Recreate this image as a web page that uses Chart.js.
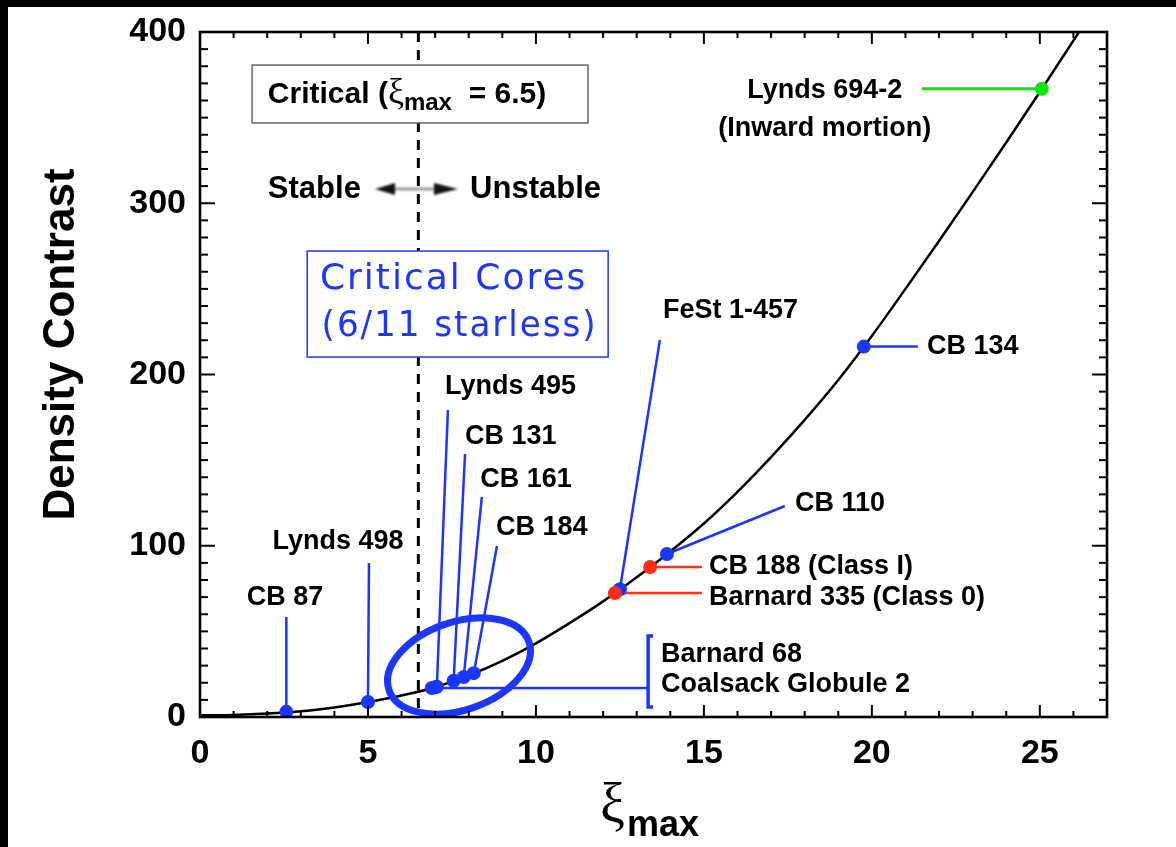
<!DOCTYPE html>
<html>
<head>
<meta charset="utf-8">
<script src="https://cdn.jsdelivr.net/npm/chart.js@4.4.1/dist/chart.umd.min.js"></script>
<style>
  html, body { margin: 0; padding: 0; background: #fff; }
  canvas { display: block; }
</style>
</head>
<body>
<canvas id="chart" width="1176" height="847"></canvas>
<script>
// Bonnor–Ebert equilibrium sequence: centre-to-edge density contrast against xi_max
const curveXi       = [0, 1, 2, 3, 4, 5, 6, 7, 8, 9, 10, 11, 12, 13, 14, 15, 16, 17, 18, 19, 20, 21, 22, 23, 24, 25, 26, 26.2];
const curveContrast = [1.0, 1.2, 2.0, 3.4, 5.6, 8.8, 12.6, 17.4, 24.3, 32.8, 43.0, 54.8, 67.5, 81.6, 96.7, 113.0,
                       131.5, 151.8, 173.5, 196.8, 222.5, 250.0, 278.0, 306.5, 335.5, 365.0, 395.0, 401.0];

// Globules fitted with Bonnor–Ebert profiles
const coreNames    = ['CB 87', 'Lynds 498', 'Barnard 68', 'Coalsack Globule 2', 'Lynds 495', 'CB 131', 'CB 161',
                      'CB 184', 'FeSt 1-457', 'CB 110', 'CB 134', 'Barnard 335', 'CB 188', 'Lynds 694-2'];
const coreXi       = [2.57, 5.0, 6.9, 7.0, 7.05, 7.55, 7.85, 8.15, 12.5, 13.9, 19.76, 12.35, 13.4, 25.06];
const coreContrast = [3.0, 8.8, 16.9, 17.4, 17.7, 21.2, 23.3, 25.6, 74.6, 95.2, 216.3, 72.4, 87.6, 366.8];
const coreKind     = ['starless', 'starless', 'starless', 'starless', 'starless', 'starless', 'starless',
                      'starless', 'starless', 'starless', 'starless', 'protostar', 'protostar', 'infall'];

// Axis tick labels and the critical value
const xTickValues = [0, 5, 10, 15, 20, 25];
const yTickValues = [0, 100, 200, 300, 400];
const xiCritical = 6.5;

const BLUE = '#1a36ff';
const RED = '#ff2d12';
const GREEN = '#12e412';
const kindColor = { starless: BLUE, protostar: RED, infall: GREEN };

const BOLD = 'bold 27px "Liberation Sans", Arial, sans-serif';

// Call-out layout, in data units: leader end point and label anchor
const callouts = [
  { name: 'CB 87',       to: [2.57, 58.4],  at: [2.53, 70.0],   align: 'center', text: ['CB 87'] },
  { name: 'Lynds 498',   to: [5.03, 89.9],  at: [4.11, 102.2],  align: 'center', text: ['Lynds 498'] },
  { name: 'Lynds 495',   to: [7.38, 179.3], at: [7.29, 192.7],  align: 'left',   text: ['Lynds 495'] },
  { name: 'CB 131',      to: [7.89, 153.6], at: [7.89, 163.5],  align: 'left',   text: ['CB 131'] },
  { name: 'CB 161',      to: [8.39, 128.5], at: [8.34, 138.4],  align: 'left',   text: ['CB 161'] },
  { name: 'CB 184',      to: [8.84, 99.9],  at: [8.81, 110.4],  align: 'left',   text: ['CB 184'] },
  { name: 'FeSt 1-457',  to: [13.69, 220.1], at: [13.78, 237.1], align: 'left',  text: ['FeSt 1-457'] },
  { name: 'CB 110',      to: [17.41, 123.2], at: [17.71, 124.4], align: 'left',  text: ['CB 110'] },
  { name: 'CB 134',      to: [21.37, null], at: [21.64, 216.6], align: 'left',   text: ['CB 134'] },
  { name: 'Barnard 335', to: [14.94, null], at: [15.15, 70.0],  align: 'left',   text: ['Barnard 335 (Class 0)'] },
  { name: 'CB 188',      to: [14.94, null], at: [15.15, 87.6],  align: 'left',   text: ['CB 188 (Class I)'] },
  { name: 'Lynds 694-2', to: [21.49, null], at: [18.6, 365.8],  align: 'center', text: ['Lynds 694-2', '(Inward mortion)'], gap: 38 }
];

// Barnard 68 / Coalsack shared bracket
const bracket = { from: 'Barnard 68', x: 13.34, top: 47.3, bottom: 5.8, labelX: 13.72, labels: [['Barnard 68', 36.2], ['Coalsack Globule 2', 18.7]] };

function pointsOf(kind) {
  const pts = [];
  coreNames.forEach((n, i) => { if (coreKind[i] === kind) pts.push({ x: coreXi[i], y: coreContrast[i] }); });
  return pts;
}

const curvePoints = curveXi.map((x, i) => ({ x, y: curveContrast[i] }));

function px(ch, x, y) { return [ch.scales.x.getPixelForValue(x), ch.scales.y.getPixelForValue(y)]; }

function line(ctx, x1, y1, x2, y2) { ctx.beginPath(); ctx.moveTo(x1, y1); ctx.lineTo(x2, y2); ctx.stroke(); }

const decor = {
  id: 'decor',
  beforeDraw(ch) {
    const ctx = ch.ctx;
    ctx.save();
    ctx.fillStyle = '#fff';
    ctx.fillRect(0, 0, ch.width, ch.height);
    ctx.fillStyle = '#000';
    ctx.fillRect(0, 0, ch.width, 7);
    ctx.fillRect(0, 0, 8, ch.height);
    ctx.restore();
  },
  beforeDatasetsDraw(ch) {
    const ctx = ch.ctx;
    const { top, bottom } = ch.chartArea;
    ctx.save();
    // critical xi marker
    const xc = ch.scales.x.getPixelForValue(xiCritical);
    ctx.strokeStyle = '#000';
    ctx.lineWidth = 3;
    ctx.setLineDash([10, 8]);
    line(ctx, xc, top, xc, bottom);
    ctx.setLineDash([]);
    // boxes (white fill hides the dashed marker)
    let [l, t] = px(ch, 1.55, 380.7), [r, b] = px(ch, 11.55, 346.9);
    ctx.fillStyle = '#fff';
    ctx.fillRect(l, t, r - l, b - t);
    ctx.strokeStyle = '#666';
    ctx.lineWidth = 1.5;
    ctx.strokeRect(l, t, r - l, b - t);
    [l, t] = px(ch, 3.19, 272.1); [r, b] = px(ch, 12.15, 210.2);
    ctx.fillRect(l, t, r - l, b - t);
    ctx.strokeStyle = BLUE;
    ctx.strokeRect(l, t, r - l, b - t);
    ctx.restore();
  },
  afterDatasetDraw(ch, args) {
    if (args.index !== 3) return;   // after the equilibrium curve
    const ctx = ch.ctx;
    ctx.save();
    // leaders
    callouts.forEach(c => {
      const i = coreNames.indexOf(c.name);
      const [x0, y0] = px(ch, coreXi[i], coreContrast[i]);
      const [x1, y1] = px(ch, c.to[0], c.to[1] === null ? coreContrast[i] : c.to[1]);
      ctx.strokeStyle = kindColor[coreKind[i]];
      ctx.lineWidth = coreKind[i] === 'infall' ? 3 : 2.5;
      line(ctx, x0, y0, x1, y1);
    });
    const bi = coreNames.indexOf(bracket.from);
    const [bx0, by0] = px(ch, coreXi[bi], coreContrast[bi]);
    const [bx1] = px(ch, bracket.x, 0);
    const [, bt] = px(ch, 0, bracket.top);
    const [, bb] = px(ch, 0, bracket.bottom);
    ctx.strokeStyle = BLUE;
    ctx.lineWidth = 2.5;
    line(ctx, bx0, by0, bx1, by0);
    ctx.lineWidth = 3.5;
    ctx.beginPath();
    ctx.moveTo(bx1 + 5, bt); ctx.lineTo(bx1, bt); ctx.lineTo(bx1, bb); ctx.lineTo(bx1 + 5, bb);
    ctx.stroke();
    // ring around the critical cores
    const [ex, ey] = px(ch, 7.71, 29.8);
    ctx.lineWidth = 7;
    ctx.beginPath();
    ctx.ellipse(ex, ey, 74, 44, -19 * Math.PI / 180, 0, 2 * Math.PI);
    ctx.stroke();
    ctx.restore();
  },
  afterDraw(ch) {
    const ctx = ch.ctx;
    const { left, right, top, bottom } = ch.chartArea;
    const xs = ch.scales.x, ys = ch.scales.y;
    ctx.save();
    // frame and inward ticks on all four sides
    ctx.strokeStyle = '#000';
    ctx.lineWidth = 2;
    for (let v = 0; v <= xs.max; v += 1) {
      const p = xs.getPixelForValue(v);
      const len = v % 5 === 0 ? 12 : 6;
      line(ctx, p, bottom, p, bottom - len);
      line(ctx, p, top, p, top + len);
    }
    for (let v = 0; v <= ys.max; v += 10) {
      const p = ys.getPixelForValue(v);
      const len = v % 100 === 0 ? 15 : 8;
      line(ctx, left, p, left + len, p);
      line(ctx, right, p, right - len, p);
    }
    ctx.lineWidth = 2.6;
    ctx.strokeRect(left, top, right - left, bottom - top);

    // call-out labels
    ctx.fillStyle = '#000';
    ctx.font = BOLD;
    ctx.textBaseline = 'middle';
    callouts.forEach(c => {
      const [x, y] = px(ch, c.at[0], c.at[1]);
      ctx.textAlign = c.align;
      c.text.forEach((s, k) => ctx.fillText(s, x, y + k * (c.gap || 0)));
    });
    ctx.textAlign = 'left';
    bracket.labels.forEach(([s, v]) => {
      const [x, y] = px(ch, bracket.labelX, v);
      ctx.fillText(s, x, y);
    });

    // critical value box text
    let [x, y] = px(ch, 2.02, 363.8);
    ctx.font = 'bold 30px "Liberation Sans", Arial, sans-serif';
    ctx.textBaseline = 'alphabetic';
    const base = y + 9;
    ctx.fillText('Critical (', x, base);
    x += ctx.measureText('Critical (').width;
    ctx.font = '36px "Liberation Serif", serif';
    ctx.fillText('\u03BE', x, base);
    x += ctx.measureText('\u03BE').width;
    ctx.font = 'bold 24px "Liberation Sans", Arial, sans-serif';
    ctx.fillText('max', x, base + 7);
    x += ctx.measureText('max').width;
    ctx.font = 'bold 30px "Liberation Sans", Arial, sans-serif';
    ctx.fillText('  = 6.5)', x, base);

    // stable / unstable
    ctx.font = 'bold 31px "Liberation Sans", Arial, sans-serif';
    ctx.textBaseline = 'middle';
    [x, y] = px(ch, 2.02, 308.3);
    ctx.fillText('Stable', x, y);
    [x, y] = px(ch, 8.04, 308.3);
    ctx.fillText('Unstable', x, y);
    const [a0] = px(ch, 5.21, 0), [a1] = px(ch, 7.68, 0);
    ctx.filter = 'blur(0.8px)';
    ctx.strokeStyle = '#9a9a9a';
    ctx.lineWidth = 3;
    line(ctx, a0 + 18, y, a1 - 22, y);
    ctx.fillStyle = '#111';
    ctx.beginPath(); ctx.moveTo(a0, y); ctx.lineTo(a0 + 20, y - 6); ctx.lineTo(a0 + 20, y + 6); ctx.closePath(); ctx.fill();
    ctx.beginPath(); ctx.moveTo(a1, y); ctx.lineTo(a1 - 24, y - 6); ctx.lineTo(a1 - 24, y + 6); ctx.closePath(); ctx.fill();
    ctx.filter = 'none';

    // critical cores box text
    ctx.fillStyle = BLUE;
    ctx.font = '36px "DejaVu Sans", sans-serif';
    ctx.letterSpacing = '2px';
    [x, y] = px(ch, 3.57, 255.2);
    ctx.fillText('Critical Cores', x, y, 268);
    [x, y] = px(ch, 3.62, 227.7);
    ctx.fillText('(6/11 starless)', x, y, 276);
    ctx.letterSpacing = '0px';

    // axis titles
    ctx.fillStyle = '#000';
    ctx.font = 'bold 44px "Liberation Sans", Arial, sans-serif';
    ctx.save();
    ctx.translate(62, (top + bottom) / 2 - 30);
    ctx.rotate(-Math.PI / 2);
    ctx.textAlign = 'center';
    ctx.fillText('Density Contrast', 0, 0);
    ctx.restore();

    ctx.textBaseline = 'alphabetic';
    ctx.font = '56px "Liberation Serif", serif';
    const wXi = ctx.measureText('\u03BE').width;
    ctx.font = 'bold 36px "Liberation Sans", Arial, sans-serif';
    const wMax = ctx.measureText('max').width;
    let tx = (left + right) / 2 - (wXi + wMax) / 2 - 5;
    ctx.font = '56px "Liberation Serif", serif';
    ctx.fillText('\u03BE', tx, 822);
    ctx.font = 'bold 36px "Liberation Sans", Arial, sans-serif';
    ctx.fillText('max', tx + wXi + 2, 836);
    ctx.restore();
  }
};

const tickFont = { family: '"Liberation Sans", Arial, sans-serif', size: 34, weight: 'bold' };

new Chart(document.getElementById('chart').getContext('2d'), {
  type: 'scatter',
  data: {
    datasets: [
      { label: 'Class 0 / I', data: pointsOf('protostar'), backgroundColor: RED, pointRadius: 7, pointBorderWidth: 0 },
      { label: 'Starless', data: pointsOf('starless'), backgroundColor: BLUE, pointRadius: 7, pointBorderWidth: 0 },
      { label: 'Inward motion', data: pointsOf('infall'), backgroundColor: GREEN, pointRadius: 7, pointBorderWidth: 0 },
      { label: 'Bonnor-Ebert', data: curvePoints, showLine: true, borderColor: '#000', borderWidth: 2.5,
        pointRadius: 0, cubicInterpolationMode: 'monotone' }
    ]
  },
  options: {
    responsive: false,
    animation: false,
    devicePixelRatio: 1,
    layout: { padding: { left: 0, top: 32, right: 69, bottom: 0 } },
    plugins: { legend: { display: false }, tooltip: { enabled: false } },
    scales: {
      x: {
        type: 'linear', min: 0, max: 27,
        grid: { display: false }, border: { display: false },
        afterBuildTicks: s => { s.ticks = xTickValues.map(v => ({ value: v })); },
        ticks: { font: tickFont, color: '#000', padding: 8, maxRotation: 0 },
        afterFit: s => { s.height = 130; }
      },
      y: {
        type: 'linear', min: 0, max: 400,
        grid: { display: false }, border: { display: false },
        afterBuildTicks: s => { s.ticks = yTickValues.map(v => ({ value: v })); },
        ticks: { font: tickFont, color: '#000', padding: 6 },
        afterFit: s => { s.width = 200; }
      }
    }
  },
  plugins: [decor]
});
</script>
</body>
</html>
